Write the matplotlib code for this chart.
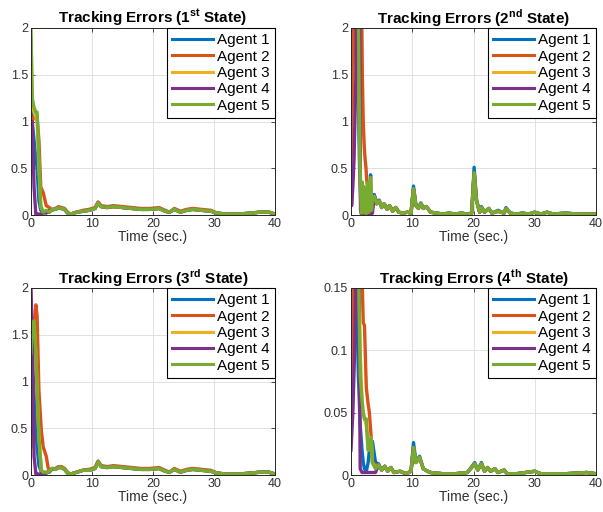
import matplotlib
matplotlib.use("Agg")
import matplotlib.pyplot as plt

plt.rcParams["font.family"] = ["Liberation Sans", "DejaVu Sans"]
plt.rcParams["mathtext.fontset"] = "custom"
plt.rcParams["mathtext.rm"] = "Liberation Sans"
plt.rcParams["mathtext.bf"] = "Liberation Sans:bold"

# MATLAB default colour order
colors = ["#0072BD", "#D95319", "#EDB120", "#7E2F8E", "#77AC30"]
labels = ["Agent 1", "Agent 2", "Agent 3", "Agent 4", "Agent 5"]

# ---------------- State 1 ----------------
s1_head_t = [0, 0.2, 0.5, 0.8, 1.0, 1.3, 1.6, 2.0, 2.5, 3.0]
s1_head_a1 = [1.2, 1.0, 0.8, 0.6, 0.5, 0.15, 0.05, 0.03, 0.02, 0.05]
s1_head_a2 = [0.9, 1.0, 1.05, 1.08, 1.05, 0.8, 0.3, 0.24, 0.1, 0.08]
s1_head_a3 = [1.9, 1.2, 1.1, 1.05, 1.0, 0.5, 0.1, 0.03, 0.04, 0.03]
s1_head_a4 = [0.9, 1.0, 0.3, 0.0, 0.01, 0.01, 0.01, 0.02, 0.03, 0.03]
s1_head_a5 = [2.0, 1.25, 1.15, 1.1, 1.1, 0.6, 0.1, 0.03, 0.05, 0.03]
s1_tail_t = [3.5, 4.0, 4.5, 5.0, 5.5, 6.0, 6.5, 7.5, 8.5, 9.5, 10.5, 11.0, 11.5, 12.5,
             13.5, 15, 16.5, 18, 19.5, 21, 22, 22.7, 23.5, 24.5, 25.5, 26.5, 28, 29.5,
             30.5, 32, 34, 36, 37.5, 39, 40]
s1_tail = [0.06, 0.06, 0.08, 0.07, 0.06, 0.02, 0.01, 0.03, 0.04, 0.05, 0.07, 0.13, 0.09, 0.08,
           0.09, 0.08, 0.07, 0.06, 0.06, 0.07, 0.04, 0.03, 0.06, 0.03, 0.05, 0.06, 0.05, 0.04,
           0.02, 0.01, 0.01, 0.02, 0.03, 0.03, 0.01]
s1_tail_a2 = [0.05, 0.07, 0.09, 0.08, 0.07, 0.03, 0.01, 0.03, 0.05, 0.06, 0.08, 0.14, 0.1, 0.09,
              0.1, 0.09, 0.08, 0.07, 0.07, 0.08, 0.05, 0.03, 0.07, 0.04, 0.06, 0.07, 0.06, 0.05,
              0.02, 0.01, 0.01, 0.02, 0.03, 0.03, 0.01]

# ---------------- State 2 ----------------
s2_head_t = [0, 0.1, 0.3, 0.5, 0.8, 1.0, 1.2, 1.4, 1.55, 1.7, 1.85, 2.0, 2.15, 2.3, 2.45,
             2.6, 2.75, 2.9, 3.05, 3.2, 3.35, 3.5]
s2_head_a1 = [1.5, 2.5, 2.3, 2.0, 1.8, 1.5, 1.2, 0.5, 0.2, 0.02, 0.3, 0.05, 0.25, 0.03, 0.2,
              0.02, 0.3, 0.04, 0.25, 0.43, 0.05, 0.15]
s2_head_a2 = [0.5, 0.8, 1.5, 2.2, 2.5, 3.0, 3.0, 3.0, 3.0, 2.5, 1.5, 1.0, 0.75, 0.6, 0.5,
              0.35, 0.25, 0.2, 0.15, 0.3, 0.1, 0.1]
s2_head_a3 = [2.5, 3.0, 2.5, 2.2, 2.1, 2.5, 2.0, 0.8, 0.3, 0.02, 0.35, 0.04, 0.3, 0.02, 0.25,
              0.03, 0.3, 0.03, 0.25, 0.38, 0.04, 0.15]
s2_head_a4 = [0.4, 0.1, 0.3, 0.6, 1.5, 3.0, 3.0, 2.5, 0.05, 0.01, 0.02, 0.01, 0.02, 0.01, 0.02,
              0.01, 0.02, 0.01, 0.02, 0.03, 0.01, 0.02]
s2_head_a5 = [2.5, 3.0, 2.5, 2.2, 2.1, 2.5, 2.2, 0.85, 0.3, 0.02, 0.35, 0.03, 0.3, 0.02, 0.25,
              0.02, 0.35, 0.03, 0.25, 0.4, 0.05, 0.15]
s2_tail_t = [3.8, 4.2, 4.6, 5.0, 5.4, 5.9, 6.3, 6.8, 7.3, 7.8, 8.5, 9.2, 9.8, 10.2, 10.6,
             11.0, 11.4, 11.8, 12.3, 13, 14, 15, 16, 17, 18, 19, 19.7, 20.1, 20.5, 21.0,
             21.3, 21.8, 22.5, 23, 24, 25, 25.3, 26, 27, 28, 29, 30, 31, 32, 33, 35, 37,
             39, 40]
s2_tail = [0.2, 0.12, 0.15, 0.08, 0.12, 0.06, 0.1, 0.04, 0.08, 0.03, 0.02, 0.03, 0.02, 0.28, 0.1,
           0.07, 0.12, 0.07, 0.09, 0.03, 0.02, 0.01, 0.02, 0.01, 0.02, 0.01, 0.02, 0.45, 0.15, 0.03,
           0.08, 0.03, 0.07, 0.02, 0.04, 0.02, 0.07, 0.02, 0.01, 0.02, 0.01, 0.03, 0.01, 0.03, 0.01,
           0.02, 0.01, 0.01, 0.01]
s2_tail_a1 = [0.22, 0.13, 0.16, 0.09, 0.12, 0.07, 0.1, 0.05, 0.08, 0.03, 0.02, 0.03, 0.02, 0.31, 0.11,
              0.08, 0.13, 0.08, 0.09, 0.03, 0.02, 0.01, 0.02, 0.01, 0.02, 0.01, 0.02, 0.51, 0.16, 0.03,
              0.09, 0.03, 0.07, 0.02, 0.05, 0.02, 0.08, 0.02, 0.01, 0.02, 0.01, 0.03, 0.01, 0.03, 0.01,
              0.02, 0.01, 0.01, 0.01]

# ---------------- State 3 ----------------
s3_head_t = [0, 0.2, 0.5, 0.8, 1.0, 1.3, 1.7, 2.0, 2.5, 2.8, 3.0]
s3_head_a1 = [1.0, 1.2, 0.9, 0.5, 0.3, 0.1, 0.03, 0.02, 0.02, 0.04, 0.05]
s3_head_a2 = [0.3, 1.0, 1.6, 1.82, 1.7, 0.9, 0.47, 0.3, 0.2, 0.08, 0.05]
s3_head_a3 = [1.2, 1.5, 1.6, 1.3, 0.9, 0.4, 0.05, 0.03, 0.03, 0.03, 0.04]
s3_head_a4 = [2.0, 1.5, 0.2, 0.01, 0.01, 0.01, 0.01, 0.02, 0.02, 0.03, 0.03]
s3_head_a5 = [1.3, 1.6, 1.65, 1.3, 0.9, 0.4, 0.05, 0.03, 0.03, 0.03, 0.04]
s3_tail_t = s1_tail_t
s3_tail = [0.07, 0.06, 0.08, 0.08, 0.06, 0.02, 0.01, 0.03, 0.05, 0.05, 0.07, 0.14, 0.09, 0.08,
           0.09, 0.08, 0.07, 0.06, 0.06, 0.07, 0.04, 0.03, 0.06, 0.03, 0.05, 0.06, 0.05, 0.04,
           0.02, 0.01, 0.01, 0.02, 0.03, 0.03, 0.01]
s3_tail_a2 = [0.06, 0.07, 0.09, 0.09, 0.07, 0.03, 0.01, 0.03, 0.05, 0.06, 0.08, 0.15, 0.1, 0.09,
              0.1, 0.09, 0.08, 0.07, 0.07, 0.08, 0.05, 0.03, 0.07, 0.04, 0.06, 0.07, 0.06, 0.05,
              0.02, 0.01, 0.01, 0.02, 0.03, 0.03, 0.01]

# ---------------- State 4 ----------------
s4_head_t = [0, 0.3, 0.6, 0.9, 1.2, 1.5, 1.8, 2.0, 2.2, 2.5, 2.8, 3.0, 3.3, 3.5, 4.0]
s4_head_a1 = [0.2, 0.25, 0.2, 0.15, 0.08, 0.04, 0.02, 0.01, 0.005, 0.003, 0.01, 0.02, 0.015, 0.027, 0.01]
s4_head_a2 = [0.05, 0.1, 0.2, 0.25, 0.3, 0.25, 0.16, 0.122, 0.12, 0.07, 0.057, 0.05, 0.03, 0.01, 0.008]
s4_head_a3 = [0.3, 0.3, 0.25, 0.2, 0.18, 0.1, 0.06, 0.05, 0.045, 0.04, 0.02, 0.025, 0.03, 0.01, 0.006]
s4_head_a4 = [0.02, 0.05, 0.1, 0.2, 0.25, 0.005, 0.002, 0.002, 0.002, 0.002, 0.002, 0.002, 0.002, 0.002, 0.002]
s4_head_a5 = [0.3, 0.3, 0.25, 0.2, 0.18, 0.08, 0.06, 0.05, 0.045, 0.045, 0.02, 0.02, 0.03, 0.01, 0.005]
s4_tail_t = [4.5, 5.0, 5.5, 6.0, 6.5, 7.0, 8.0, 9.0, 9.8, 10.2, 10.6, 11.2, 11.8, 12.5, 13,
             15, 17, 19, 20.2, 20.7, 21.3, 21.8, 22.3, 22.8, 23.5, 24, 25, 25.5, 27, 30,
             31, 33, 35, 38.5, 40]
s4_tail = [0.008, 0.004, 0.007, 0.003, 0.006, 0.002, 0.003, 0.001, 0.003, 0.022, 0.01, 0.014, 0.005,
           0.003, 0.002, 0.001, 0.001, 0.002, 0.009, 0.004, 0.009, 0.003, 0.006, 0.003, 0.005,
           0.002, 0.004, 0.001, 0.001, 0.003, 0.001, 0.001, 0.001, 0.002, 0.001]
s4_tail_a1 = [0.009, 0.004, 0.007, 0.003, 0.006, 0.002, 0.003, 0.001, 0.003, 0.026, 0.011, 0.015, 0.005,
              0.003, 0.002, 0.001, 0.001, 0.002, 0.01, 0.004, 0.01, 0.003, 0.006, 0.003, 0.005,
              0.002, 0.004, 0.001, 0.001, 0.003, 0.001, 0.001, 0.001, 0.002, 0.001]

states = [
    ("1", "st", s1_head_t + s1_tail_t,
     [s1_head_a1 + s1_tail, s1_head_a2 + s1_tail_a2, s1_head_a3 + s1_tail,
      s1_head_a4 + s1_tail, s1_head_a5 + s1_tail], 2, [0, 0.5, 1, 1.5, 2]),
    ("2", "nd", s2_head_t + s2_tail_t,
     [s2_head_a1 + s2_tail_a1, s2_head_a2 + s2_tail, s2_head_a3 + s2_tail,
      s2_head_a4 + s2_tail, s2_head_a5 + s2_tail], 2, [0, 0.5, 1, 1.5, 2]),
    ("3", "rd", s3_head_t + s3_tail_t,
     [s3_head_a1 + s3_tail, s3_head_a2 + s3_tail_a2, s3_head_a3 + s3_tail,
      s3_head_a4 + s3_tail, s3_head_a5 + s3_tail], 2, [0, 0.5, 1, 1.5, 2]),
    ("4", "th", s4_head_t + s4_tail_t,
     [s4_head_a1 + s4_tail_a1, s4_head_a2 + s4_tail, s4_head_a3 + s4_tail,
      s4_head_a4 + s4_tail, s4_head_a5 + s4_tail], 0.15, [0, 0.05, 0.1, 0.15]),
]

W, H = 603, 512
fig = plt.figure(figsize=(W / 100, H / 100), dpi=100)

# axes boxes in pixels: left, top, right, bottom
boxes = [(31, 28, 275, 215), (351, 28, 596, 215),
         (31, 288, 275, 475), (351, 288, 596, 475)]

for (num, sup, t, ys, ymax, yt), (l, tp, r, b) in zip(states, boxes):
    ax = fig.add_axes([l / W, 1 - b / H, (r - l) / W, (b - tp) / H])
    for y, c, lab in zip(ys, colors, labels):
        ax.plot(t, y, color=c, linewidth=2.4, label=lab)
    ax.set_xlim(0, 40)
    ax.set_ylim(0, ymax)
    ax.set_xticks([0, 10, 20, 30, 40])
    ax.set_yticks(yt)
    ax.set_yticklabels([f"{v:g}" for v in yt])
    ax.grid(True, color="#dcdcdc", linewidth=0.6)
    ax.set_axisbelow(True)
    ax.tick_params(direction="in", length=3, width=0.6, top=True, right=True,
                   labelsize=9, colors="#303030", pad=2)
    for sp in ax.spines.values():
        sp.set_linewidth(0.7)
        sp.set_color("#262626")
    ax.set_xlabel("Time (sec.)", fontsize=10, color="#303030", labelpad=0)
    ax.set_title(r"Tracking Errors (" + num + r"$^{\mathbf{" + sup + r"}}$ State)",
                 fontsize=11, fontweight="bold", pad=3)
    leg = ax.legend(loc="upper right", borderaxespad=0, fontsize=11, handlelength=2.7,
                    labelspacing=0.15, handletextpad=0.25, borderpad=0.35, fancybox=False,
                    framealpha=1)
    leg.get_frame().set_edgecolor("black")
    leg.get_frame().set_linewidth(0.8)
    for ln in leg.get_lines():
        ln.set_linewidth(2.2)

fig.savefig("out.png", dpi=100)
